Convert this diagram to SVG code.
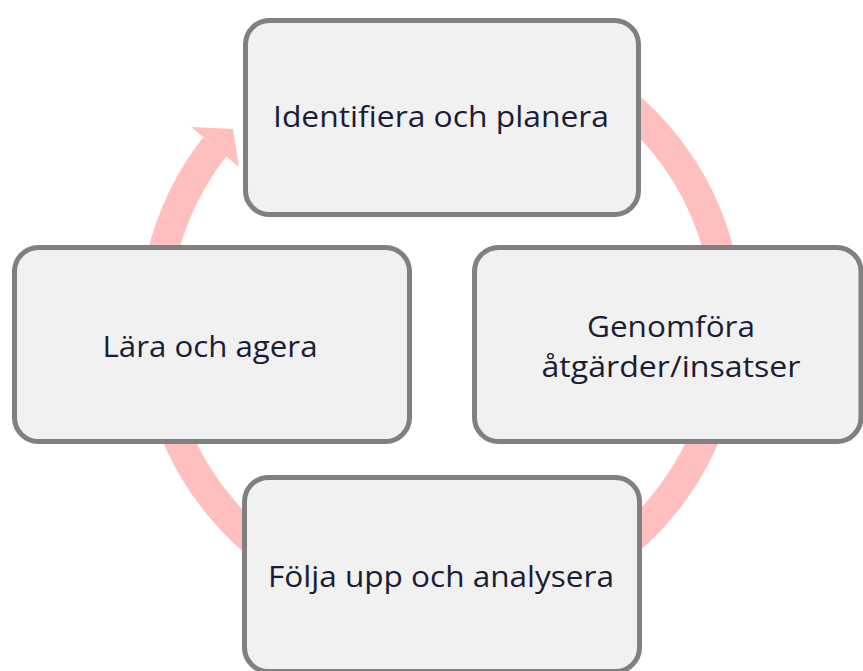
<svg xmlns="http://www.w3.org/2000/svg" width="863" height="671" viewBox="0 0 863 671">
<style>
.box{fill:#f1f1f1;stroke:#808080;stroke-width:5}
.lbl{font-family:"Open Sans","Noto Sans","Liberation Sans",sans-serif;font-size:30px;fill:#1c1c34;text-anchor:middle}
.ring{fill:none;stroke:#ffbfbf;stroke-width:30}
</style>
<rect width="863" height="671" fill="#ffffff"/>
<g id="connectors">
<path class="ring" d="M441,36.5 A287,287 0 1 1 214.8,146.8"/>
<polygon points="191,127 233,129 239,167" fill="#ffbfbf"/>
</g>
<g id="node-identifiera">
<rect class="box" x="245.5" y="20.5" width="393" height="194" rx="24"/>
<text class="lbl" x="441" y="127" textLength="336" lengthAdjust="spacingAndGlyphs">Identifiera och planera</text>
</g>
<g id="node-genomfora">
<rect class="box" x="474.5" y="247.5" width="386.5" height="194" rx="24"/>
<text class="lbl" x="671" y="337" textLength="168" lengthAdjust="spacingAndGlyphs">Genomföra</text>
<text class="lbl" x="671" y="377" textLength="259" lengthAdjust="spacingAndGlyphs">åtgärder/insatser</text>
</g>
<g id="node-folja">
<rect class="box" x="244.5" y="477.5" width="395" height="194" rx="24"/>
<text class="lbl" x="441" y="587" textLength="346" lengthAdjust="spacingAndGlyphs">Följa upp och analysera</text>
</g>
<g id="node-lara">
<rect class="box" x="14.5" y="247.5" width="395" height="194" rx="24"/>
<text class="lbl" x="210" y="357" textLength="215" lengthAdjust="spacingAndGlyphs">Lära och agera</text>
</g>
</svg>
